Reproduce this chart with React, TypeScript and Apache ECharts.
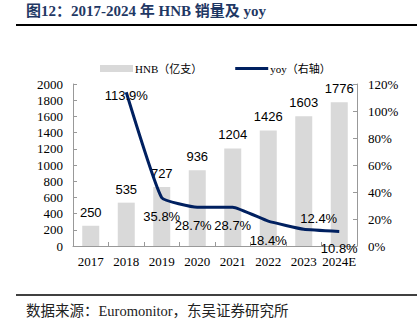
import React, { useEffect, useRef } from "react";
import * as echarts from "echarts";

const categories = ["2017", "2018", "2019", "2020", "2021", "2022", "2023", "2024E"];
const hnbValues = [250, 535, 727, 936, 1204, 1426, 1603, 1776];
const yoyValues: (number | null)[] = [null, 113.9, 35.8, 28.7, 28.7, 18.4, 12.4, 10.8];
const leftTicks = { min: 0, max: 2000, interval: 200 };
const rightTicks = { min: 0, max: 120, interval: 20 };
const titleText = "图12：2017-2024 年 HNB 销量及 yoy";
const sourceText = "数据来源：Euromonitor，东吴证券研究所";
const barName = "HNB（亿支）";
const lineName = "yoy（右轴）";

// label placement for each yoy point (style only)
const yoyLabelPlacement: any[] = [
  null,
  { position: "inside", offset: [0, 3] },
  { position: "bottom", distance: 12 },
  { position: "bottom", distance: 12, offset: [-4, 0] },
  { position: "bottom", distance: 12 },
  { position: "bottom", distance: 13 },
  { position: "top", distance: 4, offset: [15, 0] },
  { position: "bottom", distance: 11 },
];

const SERIF = '"Times New Roman", "Liberation Serif", "Noto Sans CJK SC", serif';
const SANS = 'Arial, "Liberation Sans", sans-serif';

export default function App() {
  const ref = useRef<HTMLDivElement>(null);
  useEffect(() => {
    if (!ref.current) return;
    const chart = echarts.init(ref.current, null, { renderer: "svg" });
    const lineData = yoyValues.map((v, i) => {
      const p = yoyLabelPlacement[i];
      if (v === null || !p) return v;
      return { value: v, label: { show: true, ...p } };
    });
    chart.setOption({
      animation: false,
      backgroundColor: "#fff",
      graphic: [
        {
          type: "text",
          left: 26,
          top: 3,
          style: {
            text: titleText,
            font: `bold 15px ${SERIF}`,
            fill: "#1F3864",
          },
        },
        {
          type: "line",
          shape: { x1: 16, y1: 25, x2: 417, y2: 25 },
          style: { stroke: "#000", lineWidth: 2 },
        },
        {
          type: "line",
          shape: { x1: 16, y1: 295, x2: 417, y2: 295 },
          style: { stroke: "#000", lineWidth: 1.5 },
        },
        {
          type: "text",
          left: 26,
          top: 304,
          style: {
            text: sourceText,
            font: `14.5px ${SERIF}`,
            fill: "#222",
          },
        },
      ],
      legend: {
        left: 95,
        top: 58,
        itemWidth: 33,
        itemHeight: 7,
        itemGap: 33,
        textStyle: { fontFamily: SERIF, fontSize: 11, color: "#000", padding: [0, 0, 0, -3] },
        data: [
          { name: barName, icon: "rect" },
          { name: lineName, icon: "path://M0,0h33v3h-33z", itemStyle: { color: "#002060" } },
        ],
      },
      grid: { left: 73, right: 60, top: 84, bottom: 84 },
      xAxis: {
        type: "category",
        data: categories,
        boundaryGap: true,
        axisLine: { show: true, lineStyle: { color: "#999" } },
        axisTick: { show: true, inside: true, length: 4, lineStyle: { color: "#999" } },
        axisLabel: { fontFamily: SERIF, fontSize: 13, color: "#000", margin: 9, interval: 0 },
      },
      yAxis: [
        {
          type: "value",
          min: leftTicks.min,
          max: leftTicks.max,
          interval: leftTicks.interval,
          axisLine: { show: true, lineStyle: { color: "#999" } },
          axisTick: { show: true, inside: true, length: 4, lineStyle: { color: "#999" } },
          splitLine: { show: false },
          axisLabel: {
            fontFamily: SERIF,
            fontSize: 13,
            color: "#000",
            margin: 10,
            formatter: (v: number) => String(v),
          },
        },
        {
          type: "value",
          min: rightTicks.min,
          max: rightTicks.max,
          interval: rightTicks.interval,
          position: "right",
          axisLine: { show: true, lineStyle: { color: "#999" } },
          axisTick: { show: true, inside: true, length: 4, lineStyle: { color: "#999" } },
          splitLine: { show: false },
          axisLabel: {
            fontFamily: SERIF,
            fontSize: 13,
            color: "#000",
            margin: 11,
            formatter: "{value}%",
          },
        },
      ],
      series: [
        {
          name: barName,
          type: "bar",
          data: hnbValues,
          barWidth: 17,
          itemStyle: { color: "#D9D9D9" },
          label: {
            show: true,
            position: "top",
            distance: 7,
            fontFamily: SANS,
            fontSize: 13,
            color: "#000",
          },
        },
        {
          name: lineName,
          type: "line",
          yAxisIndex: 1,
          data: lineData,
          symbol: "circle",
          symbolSize: 0.01,
          showSymbol: true,
          smooth: 0.12,
          lineStyle: { color: "#002060", width: 3 },
          itemStyle: { color: "#002060" },
          label: {
            show: true,
            fontFamily: SANS,
            fontSize: 13,
            color: "#000",
            formatter: (p: any) => Number(p.value).toFixed(1) + "%",
          },
        },
      ],
    });
    return () => chart.dispose();
  }, []);
  return (
    <div
      ref={ref}
      style={{ position: "absolute", left: 0, top: 0, width: 417, height: 330 }}
    />
  );
}
